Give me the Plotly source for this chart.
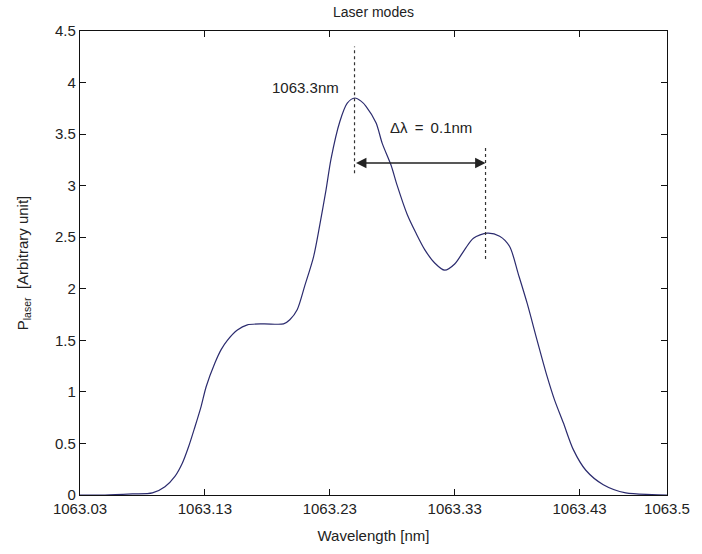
import plotly.graph_objects as go

# Measured spectrum: wavelength [nm] and laser power [arbitrary unit]
wavelength = [
    1063.030, 1063.050, 1063.072, 1063.088, 1063.098, 1063.106, 1063.112,
    1063.117, 1063.122, 1063.127, 1063.131, 1063.138, 1063.143, 1063.148,
    1063.156, 1063.164, 1063.177, 1063.193, 1063.198, 1063.204, 1063.210,
    1063.217, 1063.222, 1063.227, 1063.231, 1063.238, 1063.244, 1063.250,
    1063.255, 1063.259, 1063.267, 1063.272, 1063.279, 1063.284, 1063.292,
    1063.299, 1063.306, 1063.314, 1063.322, 1063.330, 1063.338, 1063.345,
    1063.356, 1063.366, 1063.374, 1063.381, 1063.388, 1063.396, 1063.404,
    1063.410, 1063.417, 1063.425, 1063.435, 1063.449, 1063.467, 1063.488,
    1063.500,
]
power = [
    0.00, 0.00, 0.01, 0.02, 0.08, 0.18, 0.31,
    0.47, 0.66, 0.86, 1.05, 1.28, 1.41, 1.50,
    1.60, 1.65, 1.66, 1.66, 1.70, 1.80, 2.03,
    2.31, 2.62, 2.96, 3.26, 3.62, 3.80, 3.85,
    3.82, 3.77, 3.61, 3.41, 3.20, 3.00, 2.72,
    2.54, 2.38, 2.25, 2.18, 2.24, 2.38, 2.49,
    2.54, 2.51, 2.41, 2.14, 1.86, 1.50, 1.15,
    0.92, 0.70, 0.44, 0.24, 0.10, 0.02, 0.005,
    0.00,
]

x_ticks = [1063.03, 1063.13, 1063.23, 1063.33, 1063.43, 1063.5]
x_tick_labels = ["1063.03", "1063.13", "1063.23", "1063.33", "1063.43", "1063.5"]
y_ticks = [0, 0.5, 1, 1.5, 2, 2.5, 3, 3.5, 4, 4.5]
y_tick_labels = ["0", "0.5", "1", "1.5", "2", "2.5", "3", "3.5", "4", "4.5"]

# Mode peaks and spacing marker
peak1_wl, peak2_wl = 1063.2498, 1063.3547
spacing_y = 3.22

FONT = "Liberation Sans, Arial, sans-serif"
INK = "#222222"

fig = go.Figure()
fig.add_trace(go.Scatter(
    x=wavelength, y=power, mode="lines",
    line=dict(color="#2b2b6e", width=1.2, shape="spline", smoothing=0.8),
    hoverinfo="skip", showlegend=False,
))

# Dotted guides through the two peaks
fig.add_shape(type="line", x0=peak1_wl, x1=peak1_wl, y0=3.12, y1=4.35,
              xref="x", yref="y", line=dict(color="#333333", width=1.2, dash="dot"))
fig.add_shape(type="line", x0=peak2_wl, x1=peak2_wl, y0=2.29, y1=3.37,
              xref="x", yref="y", line=dict(color="#333333", width=1.2, dash="dot"))

# Double-headed arrow between the peaks
fig.add_annotation(x=peak2_wl, y=spacing_y, ax=peak1_wl, ay=spacing_y,
                   xref="x", yref="y", axref="x", ayref="y", text="",
                   showarrow=True, arrowhead=2, startarrowhead=2,
                   arrowside="end+start", arrowsize=1.3, startarrowsize=1.3,
                   arrowwidth=1.6, arrowcolor="#222222")

fig.add_annotation(x=peak1_wl, y=3.95, xref="x", yref="y", text="1063.3nm",
                   showarrow=False, xanchor="right", xshift=-14,
                   font=dict(family=FONT, size=15, color=INK))
fig.add_annotation(x=1063.311, y=3.56, xref="x", yref="y",
                   text="Δλ\u2009 =\u2009 0.1nm", showarrow=False,
                   font=dict(family=FONT, size=15, color=INK))

axis_common = dict(
    showline=True, linecolor="#111111", linewidth=1.3, mirror="ticks",
    ticks="inside", ticklen=6, tickcolor="#111111", tickwidth=1,
    showgrid=False, zeroline=False,
    tickfont=dict(family=FONT, size=15, color=INK),
)

fig.update_layout(
    width=702, height=554,
    margin=dict(l=80, r=27, t=31, b=59),
    paper_bgcolor="white", plot_bgcolor="white",
    title=dict(text="Laser modes", x=0.5, xanchor="center", y=0.978, yanchor="middle",
               xref="paper",
               font=dict(family=FONT, size=14, color=INK)),
    xaxis=dict(range=[1063.03, 1063.5], tickvals=x_ticks, ticktext=x_tick_labels,
               title=dict(text="Wavelength [nm]", standoff=14,
                          font=dict(family=FONT, size=15, color=INK)),
               **axis_common),
    yaxis=dict(range=[0, 4.5], tickvals=y_ticks, ticktext=y_tick_labels,
               title=dict(text="P<sub>laser</sub>  [Arbitrary unit]", standoff=22,
                          font=dict(family=FONT, size=15, color=INK)),
               **axis_common),
)

fig.write_html("out.html")
